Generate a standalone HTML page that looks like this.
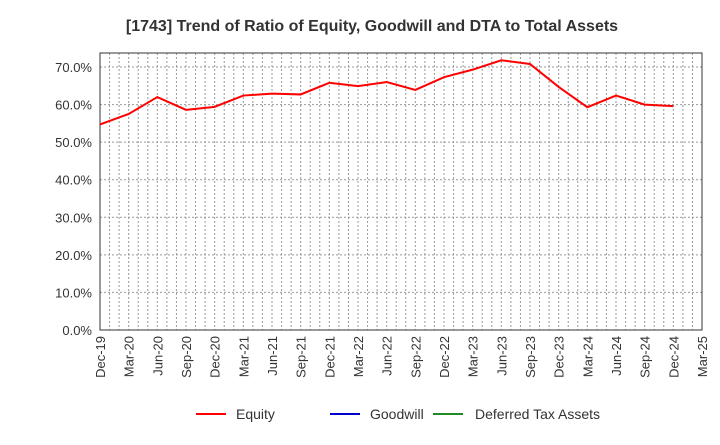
<!DOCTYPE html>
<html><head><meta charset="utf-8"><style>
body{margin:0;background:#fff;font-family:"Liberation Sans",Arial,sans-serif}
</style></head><body>
<svg width="720" height="440" xmlns="http://www.w3.org/2000/svg" id="c">
<text x="372" y="31" text-anchor="middle" font-size="16" font-weight="bold" fill="#333">[1743]  Trend of Ratio of Equity, Goodwill and DTA to Total Assets</text>
<g id="grid"></g><g id="ax"></g><g id="ser"></g>
<g font-size="14" fill="#333">
<line x1="196" y1="414" x2="226" y2="414" stroke="#ff0000" stroke-width="2"/><text x="236" y="419">Equity</text>
<line x1="330" y1="414" x2="360" y2="414" stroke="#0000cc" stroke-width="2"/><text x="370" y="419">Goodwill</text>
<line x1="433" y1="414" x2="463" y2="414" stroke="#228b22" stroke-width="2"/><text x="475" y="419">Deferred Tax Assets</text>
</g>
</svg>
<script>
const categories=["Dec-19","Mar-20","Jun-20","Sep-20","Dec-20","Mar-21","Jun-21","Sep-21","Dec-21","Mar-22","Jun-22","Sep-22","Dec-22","Mar-23","Jun-23","Sep-23","Dec-23","Mar-24","Jun-24","Sep-24","Dec-24","Mar-25"];
const equity=[54.7,57.5,62.0,58.6,59.4,62.4,62.9,62.7,65.8,64.9,66.0,63.9,67.3,69.3,71.8,70.8,64.7,59.3,62.4,60.0,59.6];
const yTicks=[0,10,20,30,40,50,60,70];
const L=100,R=702,T=53,B=330,yMax=277/37.57*10;
const NS="http://www.w3.org/2000/svg";
const x=i=>L+i*(R-L)/21, y=v=>B-v/yMax*(B-T);
function mk(p,t,a){const e=document.createElementNS(NS,t);for(const k in a)e.setAttribute(k,a[k]);document.getElementById(p).appendChild(e);return e;}
for(let m=1;m<63;m++){const xx=L+m*(R-L)/63;const e=mk('grid','line',{x1:xx,x2:xx,y1:T,y2:B,stroke:'#999','stroke-dasharray':'2,2','stroke-width':1});

}
yTicks.forEach(v=>{if(v>0){const e=mk('grid','line',{x1:L,x2:R,y1:y(v),y2:y(v),stroke:'#999','stroke-dasharray':'2,2'});

}
const t=mk('ax','text',{x:L-8,y:y(v)+5,'text-anchor':'end','font-size':13,fill:'#333'});t.textContent=v.toFixed(1)+'%';

});
const fr=mk('ax','rect',{x:L,y:T,width:R-L,height:B-T,fill:'none',stroke:'#333'});


categories.forEach((c,i)=>{const t=mk('ax','text',{transform:`translate(${x(i)+5},${B+6}) rotate(-90)`,'text-anchor':'end','font-size':13,fill:'#333'});t.textContent=c;

});
const p=mk('ser','polyline',{points:equity.map((v,i)=>x(i)+','+y(v)).join(' '),fill:'none',stroke:'#ff0000','stroke-width':2});


</script>
</body></html>
